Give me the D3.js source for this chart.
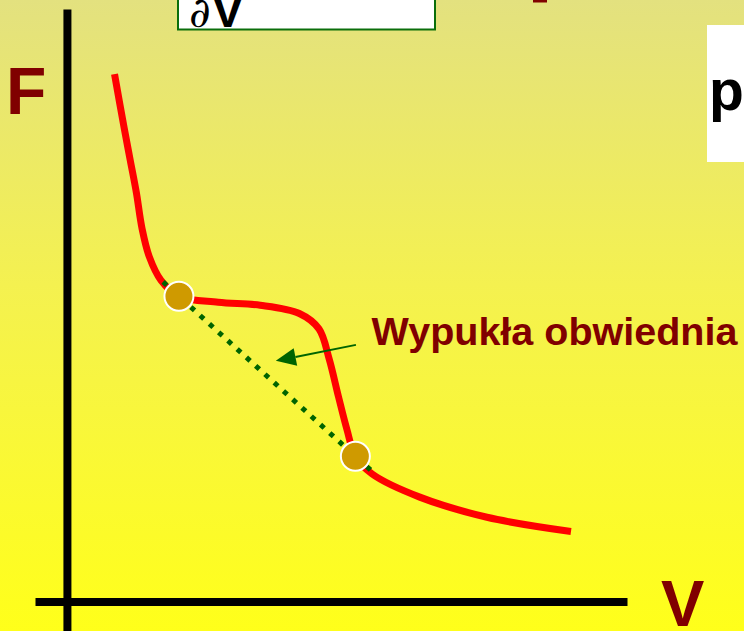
<!DOCTYPE html>
<html>
<head>
<meta charset="utf-8">
<script src="https://cdn.jsdelivr.net/npm/d3@7"></script>
<style>
  html, body { margin: 0; padding: 0; overflow: hidden; }
  svg { display: block; }
</style>
</head>
<body>
<svg id="chart" width="744" height="631"></svg>
<script>
// Free energy F as a function of volume V (arbitrary units)
const volume = [0.85, 1.02, 1.13, 1.24, 1.34, 1.47, 1.68, 2.0, 2.7, 3.45, 4.15, 4.5, 4.68, 4.85, 5.0, 5.15, 5.45, 6.3, 7.5, 9.0];
const freeEnergy = [8.9, 8.0, 7.45, 6.9, 6.3, 5.82, 5.42, 5.15, 5.05, 5.0, 4.86, 4.6, 4.1, 3.45, 2.9, 2.45, 2.15, 1.76, 1.42, 1.18];

// Common-tangent points of the convex envelope
const tangentV = [2.0, 5.15];
const tangentF = [5.15, 2.45];

// Axis labels and annotation
const axisLabels = ["F", "V"];
const envelopeLabel = "Wypukła obwiednia";

const W = 744, H = 631;
const svg = d3.select("#chart");

const x = d3.scaleLinear().domain([-0.57, 10]).range([35, 627]);
const y = d3.scaleLinear().domain([-0.5, 10]).range([631, 9]);

// Background gradient
const defs = svg.append("defs");
const grad = defs.append("linearGradient").attr("id", "bg")
  .attr("x1", 0).attr("y1", 0).attr("x2", 0).attr("y2", 1);
grad.append("stop").attr("offset", 0).attr("stop-color", "#e3e17f");
grad.append("stop").attr("offset", 0.45).attr("stop-color", "#f4f150");
grad.append("stop").attr("offset", 1).attr("stop-color", "#ffff1a");
svg.append("rect").attr("width", W).attr("height", H).attr("fill", "url(#bg)");

// Partial boxes from the surrounding slide
svg.append("rect").attr("x", 178).attr("y", -60).attr("width", 257).attr("height", 89.5)
  .attr("fill", "#fff").attr("stroke", "#0b6e0b").attr("stroke-width", 2);
svg.append("text").attr("x", 189).attr("y", 27)
  .attr("font-family", "DejaVu Serif, serif").attr("font-style", "italic")
  .attr("font-size", 42).attr("fill", "#000").text("∂");
svg.append("text").attr("x", 212).attr("y", 27)
  .attr("font-family", "Liberation Sans, Arial, sans-serif").attr("font-weight", "bold")
  .attr("font-size", 47).attr("fill", "#000").text("V");
svg.append("rect").attr("x", 533).attr("y", -2).attr("width", 14).attr("height", 4.5).attr("fill", "#800000");
svg.append("rect").attr("x", 707).attr("y", 25).attr("width", 60).attr("height", 137).attr("fill", "#fff");
svg.append("text").attr("x", 709).attr("y", 110)
  .attr("font-family", "Liberation Sans, Arial, sans-serif").attr("font-weight", "bold")
  .attr("font-size", 57).attr("fill", "#000").text("p");

// Axes (plain thick lines, no ticks)
const xAxis = svg.append("g").attr("transform", `translate(0,${y(0)})`)
  .call(d3.axisBottom(x).ticks(0).tickSizeOuter(0));
const yAxis = svg.append("g").attr("transform", `translate(${x(0)},0)`)
  .call(d3.axisLeft(y).ticks(0).tickSizeOuter(0));
[xAxis, yAxis].forEach(g => g.select(".domain")
  .attr("stroke", "#000").attr("stroke-width", 8).attr("stroke-linecap", "butt"));

// Axis labels
const labelFont = "Liberation Sans, Arial, sans-serif";
svg.append("text").attr("x", 6).attr("y", 114)
  .attr("font-family", labelFont).attr("font-weight", "bold").attr("font-size", 66)
  .attr("fill", "#800000").text(axisLabels[0]);
svg.append("text").attr("x", 661).attr("y", 626)
  .attr("font-family", labelFont).attr("font-weight", "bold").attr("font-size", 65)
  .attr("fill", "#800000").text(axisLabels[1]);

// F(V) curve
const pts = volume.map((v, i) => [v, freeEnergy[i]]);
const line = d3.line().x(d => x(d[0])).y(d => y(d[1])).curve(d3.curveCatmullRom.alpha(0.5));
svg.append("path").datum(pts).attr("d", line)
  .attr("fill", "none").attr("stroke", "#ff0000").attr("stroke-width", 7)
  .attr("stroke-linejoin", "round");

// Convex envelope: common tangent, slightly extended past the contact points
const ext = 0.09;
const dV = tangentV[1] - tangentV[0], dF = tangentF[1] - tangentF[0];
svg.append("line")
  .attr("x1", x(tangentV[0] - ext * dV)).attr("y1", y(tangentF[0] - ext * dF))
  .attr("x2", x(tangentV[1] + ext * dV)).attr("y2", y(tangentF[1] + ext * dF))
  .attr("stroke", "#006400").attr("stroke-width", 5).attr("stroke-dasharray", "5,7.5");

// Contact points
svg.selectAll("circle.tp").data(tangentV).join("circle").attr("class", "tp")
  .attr("cx", d => x(d)).attr("cy", (d, i) => y(tangentF[i])).attr("r", 14.5)
  .attr("fill", "#cf9a00").attr("stroke", "#fff").attr("stroke-width", 2);

// Annotation arrow and label
const arrowFrom = [5.16, 4.33], arrowTo = [3.73, 4.06];
const ax0 = x(arrowFrom[0]), ay0 = y(arrowFrom[1]), ax1 = x(arrowTo[0]), ay1 = y(arrowTo[1]);
const len = Math.hypot(ax1 - ax0, ay1 - ay0);
const ux = (ax1 - ax0) / len, uy = (ay1 - ay0) / len;
const headLen = 20, headHalf = 9;
const bx = ax1 - ux * headLen, by = ay1 - uy * headLen;
svg.append("line").attr("x1", ax0).attr("y1", ay0).attr("x2", bx).attr("y2", by)
  .attr("stroke", "#006400").attr("stroke-width", 2);
svg.append("path")
  .attr("d", `M${ax1},${ay1}L${bx - uy * headHalf},${by + ux * headHalf}L${bx + uy * headHalf},${by - ux * headHalf}Z`)
  .attr("fill", "#006400");
svg.append("text").attr("x", x(5.44)).attr("y", y(4.33))
  .attr("font-family", labelFont).attr("font-weight", "bold").attr("font-size", 39.5)
  .attr("fill", "#800000").text(envelopeLabel);
</script>
</body>
</html>
